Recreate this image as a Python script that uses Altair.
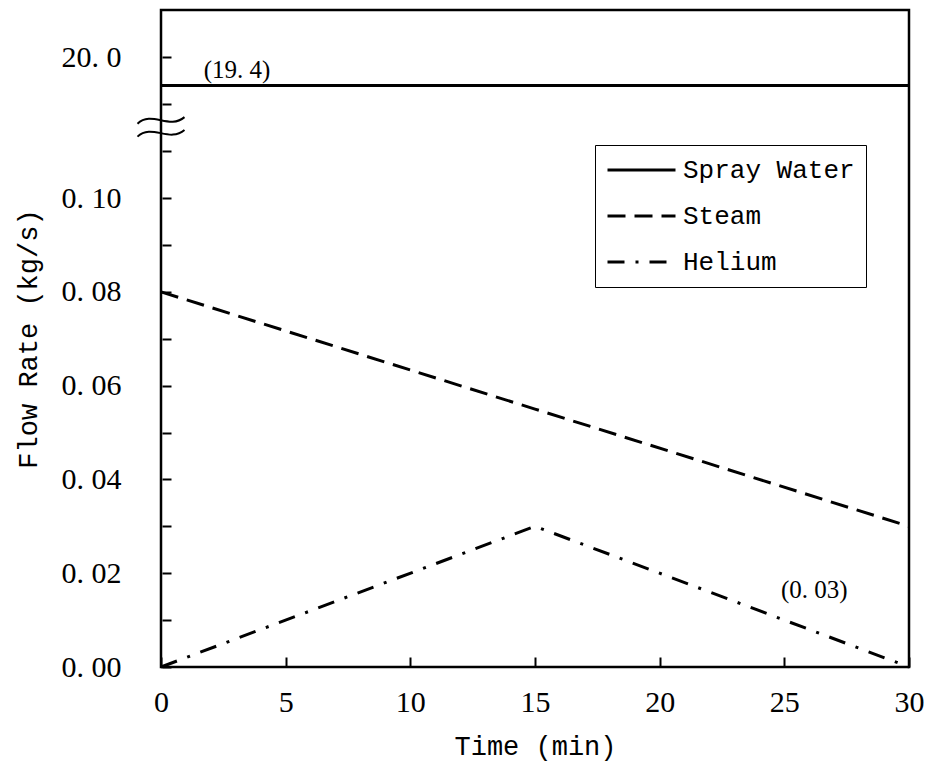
import altair as alt
import pandas as pd

# ---- data ----
time_min = [0, 15, 30]
spray_water = [19.4, 19.4, 19.4]
steam = [0.08, 0.055, 0.03]
helium = [0.0, 0.03, 0.0]
series_names = ["Spray Water", "Steam", "Helium"]

x_tick_values = [0, 5, 10, 15, 20, 25, 30]
y_tick_low = [0.00, 0.01, 0.02, 0.03, 0.04, 0.05, 0.06, 0.07, 0.08, 0.09, 0.10, 0.11]
y_tick_high = [19.0, 20.0]
y_break_at = [18.5]

ann_time = [3.05, 26.2]
ann_value = [19.73, 0.0165]
ann_text = ["(19. 4)", "(0. 03)"]


# broken axis: values above 1 kg/s are drawn in the upper band
def to_display(v):
    return 0.13 + (v - 20.0) * 0.01 if v > 1 else v


DISPLAY_EXPR = "datum.v > 1 ? 0.13 + (datum.v - 20) * 0.01 : datum.v"

rows = []
for name, vals in zip(series_names, [spray_water, steam, helium]):
    for t, v in zip(time_min, vals):
        rows.append({"t": t, "v": v, "series": name})
df = pd.DataFrame(rows)

ann_df = pd.DataFrame({"t": ann_time, "v": ann_value, "label": ann_text})
break_df = pd.DataFrame({"t": [0], "v": y_break_at})

y_values = [round(to_display(v), 4) for v in y_tick_low + y_tick_high]

SERIF = "Liberation Serif"
MONO = "Liberation Mono"

x_scale = alt.Scale(domain=[0, 30], nice=False)
y_scale = alt.Scale(domain=[0, 0.1401], nice=False, zero=False)

label_expr = (
    "round(datum.value*100) == 13 ? '20. 0' : "
    "((round(datum.value*100) % 2 == 0 && datum.value < 0.105) ? "
    "replace(format(datum.value, '.2f'), '.', '. ') : '')"
)

x_axis = alt.Axis(
    values=x_tick_values, offset=-10, tickSize=10, tickWidth=2, tickColor="black",
    domain=False, grid=False, labelFlush=False, labelOverlap=False,
    labelFont=SERIF, labelFontSize=30, labelColor="black", labelPadding=20,
    title="Time (min)", titleFont=MONO, titleFontSize=27, titleFontWeight="normal",
    titleColor="black", titlePadding=16,
)
y_axis = alt.Axis(
    values=y_values, offset=-10, tickSize=9, tickWidth=2, tickColor="black",
    domain=False, grid=False, labelFlush=False, labelOverlap=False,
    labelExpr=label_expr,
    labelFont=SERIF, labelFontSize=30, labelColor="black", labelPadding=41,
    title="Flow Rate (kg/s)", titleFont=MONO, titleFontSize=27, titleFontWeight="normal",
    titleColor="black", titlePadding=19,
)

lines = alt.Chart(df).transform_calculate(
    yd=DISPLAY_EXPR
).mark_line(color="black", strokeWidth=3).encode(
    x=alt.X("t:Q", scale=x_scale, axis=x_axis),
    y=alt.Y("yd:Q", scale=y_scale, axis=y_axis),
    strokeDash=alt.StrokeDash(
        "series:N",
        scale=alt.Scale(domain=series_names, range=[[1, 0], [18, 9], [17, 11, 3, 11]]),
        legend=alt.Legend(
            title=None, orient="none", legendX=434, legendY=135,
            symbolType="stroke", symbolSize=4624, symbolStrokeWidth=3,
            symbolStrokeColor="black", clipHeight=28, rowPadding=18,
            labelFont=MONO, labelFontSize=26, labelColor="black", labelOffset=6,
            labelLimit=400, padding=11, strokeColor="black", fillColor="white",
        ),
    ),
    detail="series:N",
)

ann = alt.Chart(ann_df).transform_calculate(
    yd=DISPLAY_EXPR
).mark_text(font=SERIF, fontSize=25, color="black").encode(
    x=alt.X("t:Q", scale=x_scale),
    y=alt.Y("yd:Q", scale=y_scale),
    text="label:N",
)

wave_path = (
    "M-1,-0.17 C-0.4,-0.75 0.35,0.1 1,-0.45 "
    "M-1,0.38 C-0.4,-0.2 0.35,0.65 1,0.1"
)
brk = alt.Chart(break_df).transform_calculate(
    yd=DISPLAY_EXPR
).mark_point(shape=wave_path, size=2209, filled=False, stroke="black",
             strokeWidth=2, opacity=1).encode(
    x=alt.X("t:Q", scale=x_scale),
    y=alt.Y("yd:Q", scale=y_scale),
)

chart = alt.layer(lines, ann, brk).properties(
    width=748, height=657,
    autosize=alt.AutoSizeParams(type="none"),
    padding={"left": 161, "top": 10, "right": 25, "bottom": 102},
    background="white",
).configure_view(
    stroke="black", strokeWidth=2.5
)

chart.save("out.html", embed_options={"renderer": "svg", "actions": False})
